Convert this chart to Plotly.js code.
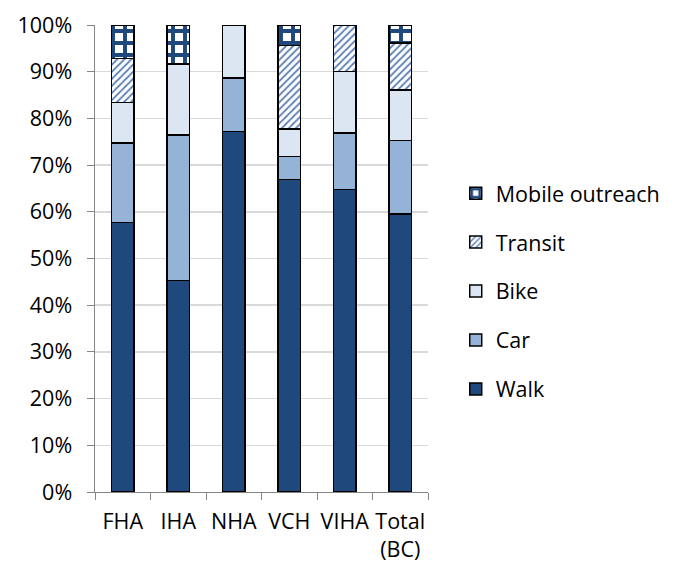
<!DOCTYPE html>
<html><head><meta charset="utf-8">
<script src="https://cdn.plot.ly/plotly-3.0.1.min.js"></script>
<style>body{margin:0;background:#fff}#chart{width:677px;height:570px}</style>
</head><body><div id="chart"></div>
<script>
const categories = ["FHA", "IHA", "NHA", "VCH", "VIHA", "Total<br>(BC)"];
const walk    = [57.7, 45.3, 77.2, 66.9, 64.8, 59.5];
const car     = [17.0, 31.1, 11.5,  4.9, 12.1, 15.8];
const bike    = [ 8.7, 15.2, 11.3,  5.9, 13.1, 10.8];
const transit = [ 9.4,  0.0,  0.0, 17.9, 10.0, 10.0];
const mobile  = [ 7.2,  8.4,  0.0,  4.4,  0.0,  3.9];
const yTickVals = [0, 10, 20, 30, 40, 50, 60, 70, 80, 90, 100];
const yTickText = ["0%", "10%", "20%", "30%", "40%", "50%", "60%", "70%", "80%", "90%", "100%"];

const line = {color: "#000000", width: 1.5};
function bar(name, y, color, rank, pattern) {
  const m = {color: color, line: line};
  if (pattern) m.pattern = pattern;
  return {type: "bar", name: name, x: categories, y: y, marker: m,
          legendgroup: name, legendrank: rank, hoverinfo: "y+name"};
}
const traces = [
  bar("Walk", walk, "#1F497D", 5),
  bar("Car", car, "#95B3D7", 4),
  bar("Bike", bike, "#DCE6F2", 3),
  bar("Transit", transit, "#FFFFFF", 2, {shape: "/", fgcolor: "#5B7FB5", bgcolor: "#FFFFFF", size: 5, solidity: 0.35, fillmode: "replace"}),
  bar("Mobile outreach", mobile, "#FFFFFF", 1, {shape: "+", fgcolor: "#1F497D", bgcolor: "#FFFFFF", size: 12, solidity: 0.55, fillmode: "replace"})
];
const font = {family: "'Open Sans', Lato, sans-serif", size: 21.5, color: "#000000"};
const layout = {
  width: 677, height: 570,
  margin: {l: 95, r: 248, t: 25, b: 78},
  paper_bgcolor: "#FFFFFF", plot_bgcolor: "#FFFFFF",
  font: font,
  barmode: "stack",
  bargap: 0.6,
  showlegend: true,
  legend: {x: 1.08, xanchor: "left", y: 0.43, yanchor: "middle",
           traceorder: "grouped", tracegroupgap: 18,
           font: font, bgcolor: "rgba(0,0,0,0)"},
  xaxis: {type: "category", showgrid: false, showline: true, linecolor: "#868686", linewidth: 1,
          ticks: "outside", tickson: "boundaries", ticklen: 7, tickcolor: "#868686",
          tickangle: 0, tickfont: font, ticklabelstandoff: 10, fixedrange: true},
  yaxis: {range: [0, 100], tickvals: yTickVals, ticktext: yTickText,
          showgrid: true, gridcolor: "#D9D9D9", gridwidth: 1.5,
          showline: true, linecolor: "#868686", linewidth: 1.5,
          ticks: "outside", ticklen: 7, tickcolor: "#868686", tickfont: font,
          ticklabelstandoff: 10,
          zeroline: false, fixedrange: true}
};
Plotly.newPlot("chart", traces, layout, {displayModeBar: false, staticPlot: true});
</script></body></html>
